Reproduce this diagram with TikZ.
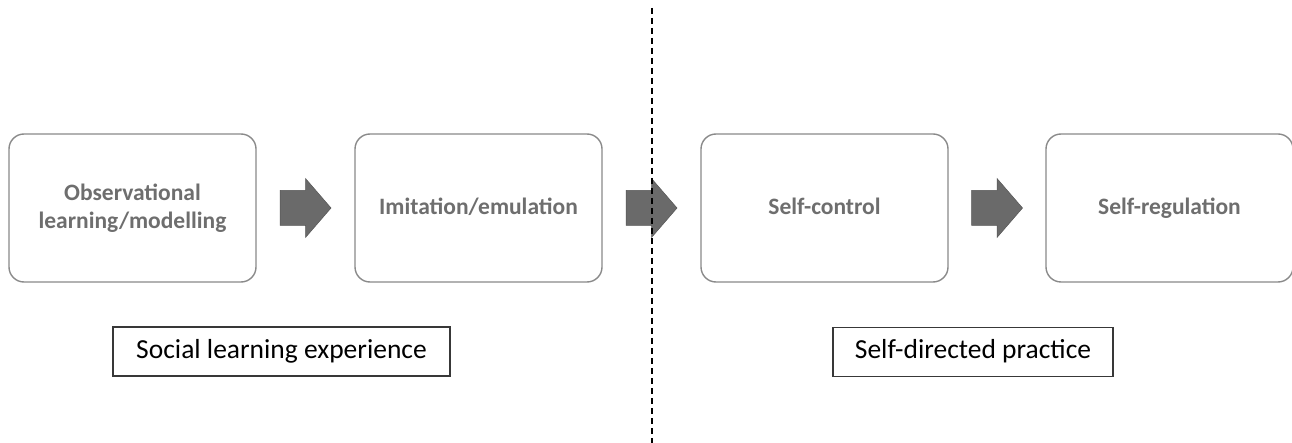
\documentclass[tikz,border=0pt]{standalone}
\usepackage{fontspec}
\setmainfont{Carlito}
\usetikzlibrary{calc}
\definecolor{boxline}{HTML}{8A8A8A}
\definecolor{boxtext}{HTML}{6E6E6E}
\definecolor{arrowfill}{HTML}{6A6A6A}
\definecolor{arrowline}{HTML}{555555}
\definecolor{labelline}{HTML}{383838}
\tikzset{
  stagebox/.style={draw=boxline, line width=1.4pt, rounded corners=15pt, minimum width=247pt, minimum height=148pt, inner sep=0pt, align=center, text=boxtext, font=\fontsize{23.5}{28}\selectfont\bfseries},
  oneline/.style={text height=20pt, text depth=6pt},
  labelbox/.style={draw=labelline, line width=1.3pt, minimum height=49pt, inner sep=0pt, text height=19pt, text depth=6pt, font=\fontsize{27.5}{32}\selectfont, text=black},
  blockarrow/.style={fill=arrowfill, draw=arrowline, line width=0.5pt},
  divider/.style={dash pattern=on 6pt off 4pt, line width=1.2pt, black}
}
\begin{document}
\begin{tikzpicture}[x=1pt,y=-1pt]
\useasboundingbox (0,0) rectangle (1292,443);
\fill[white] (0,0) rectangle (1292,443);
\node[stagebox] (b1) at (132.5,208) {Observational\\learning/modelling};
\node[stagebox, oneline] (b2) at (478.5,208) {Imitation/emulation};
\node[stagebox, oneline] (b3) at (824.5,208) {Self-control};
\node[stagebox, oneline] (b4) at (1169.5,208) {Self-regulation};
\coordinate (m1) at ($(b1.east)!0.5!(b2.west)$);
\coordinate (m2) at ($(b2.east)!0.5!(b3.west)$);
\coordinate (m3) at ($(b3.east)!0.5!(b4.west)$);
\foreach \m in {m1,m2,m3}{
  \draw[blockarrow, shift={(\m)}] (-25.5,-17.5) -- (0,-17.5) -- (0,-29.5) -- (25.5,0) -- (0,29.5) -- (0,17.5) -- (-25.5,17.5) -- cycle;
}
\coordinate (dtop) at (652,8);
\coordinate (dbot) at (652,443);
\draw[divider] (dtop) -- (dbot);
\node[labelbox, minimum width=337pt] (l1) at (281.5,351.5) {Social learning experience};
\node[labelbox, minimum width=280pt] (l2) at (973,352) {Self-directed practice};
\end{tikzpicture}
\end{document}
